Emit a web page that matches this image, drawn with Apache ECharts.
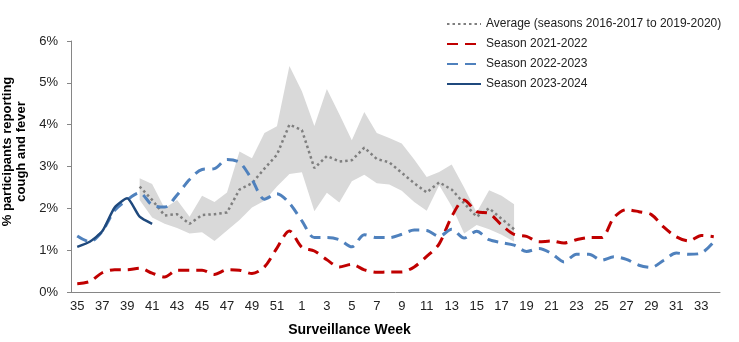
<!DOCTYPE html>
<html>
<head>
<meta charset="utf-8">
<script src="https://cdn.jsdelivr.net/npm/echarts@6/dist/echarts.min.js"></script>
<style>
html,body{margin:0;padding:0;background:#fff;}
#chart{width:739px;height:342px;}
</style>
</head>
<body>
<div id="chart"></div>
<script>
// Surveillance weeks (35..52, then 1..34)
const weeks = ['35','36','37','38','39','40','41','42','43','44','45','46','47','48','49','50','51','52',
  '1','2','3','4','5','6','7','8','9','10','11','12','13','14','15','16','17','18','19','20','21','22','23','24','25','26','27','28','29','30','31','32','33','34'];

// Average of seasons 2016-2017 to 2019-2020 (weeks 40..18)
const avgValues = [null,null,null,null,null,
  2.52,2.2,1.83,1.86,1.63,1.84,1.86,1.9,2.45,2.6,2.95,3.28,4.0,
  3.87,2.96,3.25,3.12,3.15,3.45,3.18,3.1,2.85,2.6,2.38,2.62,2.45,2.12,1.8,2.0,1.75,1.5,
  null,null,null,null,null,null,null,null,null,null,null,null,null,null,null,null];
// Range band (min / max of the historical seasons)
const bandLower = [null,null,null,null,null,
  2.2,1.78,1.63,1.53,1.4,1.43,1.22,1.47,1.72,2.02,2.18,2.52,2.82,
  2.86,1.93,2.37,2.14,2.65,2.8,2.6,2.57,2.42,2.15,1.94,2.55,2.05,1.4,1.6,1.5,1.37,1.2,
  null,null,null,null,null,null,null,null,null,null,null,null,null,null,null,null];
const bandUpper = [null,null,null,null,null,
  2.72,2.58,2.0,2.2,1.8,2.3,2.15,2.38,3.36,3.2,3.8,3.96,5.4,
  4.8,3.97,4.85,4.25,3.63,4.3,3.8,3.68,3.55,3.17,2.75,2.87,3.05,2.5,1.9,2.43,2.3,2.1,
  null,null,null,null,null,null,null,null,null,null,null,null,null,null,null,null];
// Season 2021-2022
const season2122 = [0.2,0.25,0.46,0.53,0.53,0.57,0.45,0.36,0.52,0.52,0.52,0.42,0.53,0.52,0.44,0.6,1.05,1.46,
  1.07,0.98,0.77,0.6,0.66,0.53,0.47,0.48,0.48,0.6,0.85,1.15,1.8,2.2,1.92,1.88,1.6,1.38,1.33,1.2,1.22,1.17,1.25,1.3,1.3,1.78,1.97,1.92,1.85,1.55,1.32,1.22,1.35,1.32];
// Season 2022-2023
const season2223 = [1.34,1.2,1.45,1.95,2.2,2.37,2.08,2.03,2.32,2.69,2.93,2.95,3.17,3.1,2.69,2.22,2.35,2.12,
  1.7,1.3,1.3,1.25,1.08,1.37,1.3,1.3,1.38,1.48,1.47,1.33,1.5,1.29,1.45,1.25,1.18,1.12,0.97,1.04,0.92,0.72,0.9,0.9,0.76,0.84,0.78,0.64,0.59,0.76,0.93,0.9,0.93,1.2];
// Season 2023-2024
const season2324 = [1.08,1.2,1.45,2.02,2.24,1.8,1.63];

const legendNames = ['Average (seasons 2016-2017 to 2019-2020)','Season 2021-2022','Season 2022-2023','Season 2023-2024'];

const bandDiff = bandUpper.map((u,i)=> (u==null||bandLower[i]==null)?null:+(u-bandLower[i]).toFixed(3));

const FONT = 'Arial, "Liberation Sans", sans-serif';
const chart = echarts.init(document.getElementById('chart'), null, {renderer:'canvas'});
chart.setOption({
  animation:false,
  backgroundColor:'#fff',
  textStyle:{fontFamily:FONT},
  grid:{left:71,right:19,top:41,bottom:50,containLabel:false,outerBoundsMode:'none'},
  legend:{
    data:legendNames,
    orient:'vertical',
    left:441, top:13,
    itemWidth:34, itemHeight:14, itemGap:8,
    itemStyle:{opacity:0},
    textStyle:{fontFamily:FONT,fontSize:12,color:'#222'}
  },
  xAxis:{
    type:'category', data:weeks, boundaryGap:true,
    axisLine:{lineStyle:{color:'#868686',width:1}},
    axisTick:{interval:0,length:5,lineStyle:{color:'#868686'}},
    axisLabel:{interval:1,fontSize:13,color:'#222',margin:8,fontFamily:FONT},
    name:'Surveillance Week', nameLocation:'middle', nameGap:31,
    nameTextStyle:{fontFamily:FONT,fontSize:14,fontWeight:'bold',color:'#000',padding:[0,92,0,0]}
  },
  yAxis:{
    type:'value', min:0, max:6, interval:1,
    axisLine:{show:true,lineStyle:{color:'#868686',width:1}},
    axisTick:{show:true,length:4,lineStyle:{color:'#868686'}},
    splitLine:{show:false},
    axisLabel:{formatter:'{value}%',fontSize:13,color:'#222',margin:13,fontFamily:FONT},
    name:'% participants reporting\ncough and fever', nameLocation:'middle', nameGap:38, nameRotate:90,
    nameTextStyle:{fontFamily:FONT,fontSize:13,fontWeight:'bold',color:'#000',lineHeight:14,align:'center',padding:[0,0,0,30]}
  },
  series:[
    {name:'bandLower',type:'line',stack:'band',data:bandLower,symbol:'none',silent:true,
      lineStyle:{width:0,opacity:0},z:1},
    {name:'bandRange',type:'line',stack:'band',data:bandDiff,symbol:'none',silent:true,
      lineStyle:{width:0,opacity:0},areaStyle:{color:'#D9D9D9',opacity:1},z:1},
    {name:legendNames[0],type:'line',data:avgValues,symbol:'none',z:3,
      lineStyle:{color:'#7F7F7F',width:2.5,type:[2.5,3]},itemStyle:{color:'#7F7F7F'}},
    {name:legendNames[1],type:'line',data:season2122,symbol:'none',smooth:0.3,z:4,
      lineStyle:{color:'#C00000',width:3,type:[11,7]},itemStyle:{color:'#C00000'}},
    {name:legendNames[2],type:'line',data:season2223,symbol:'none',smooth:0.3,z:4,
      lineStyle:{color:'#4F81BD',width:3,type:[11,7]},itemStyle:{color:'#4F81BD'}},
    {name:legendNames[3],type:'line',data:season2324,symbol:'none',smooth:0.2,z:5,
      lineStyle:{color:'#1F497D',width:2.5,type:'solid'},itemStyle:{color:'#1F497D'}}
  ]
});
</script>
</body>
</html>
